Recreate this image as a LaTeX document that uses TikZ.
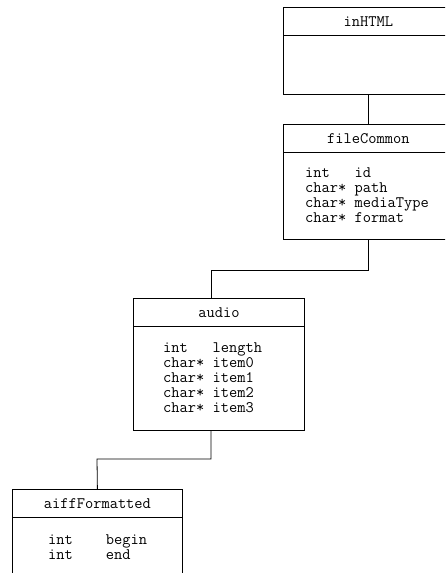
\documentclass[tikz,border=0pt]{standalone}

\begin{document}
\begin{tikzpicture}[x=1pt, y=-1pt, every node/.style={font=\fontsize{16}{15}\ttfamily},
	cls/.style={draw, line width=0.8pt, minimum width=170pt, inner sep=0pt, anchor=north west},
	fld/.style={anchor=north west, inner sep=0pt, align=left}]
	\useasboundingbox (0,0) rectangle (445,573);
	\clip (0,0) rectangle (445,573);
	% class boxes
	\node[cls, minimum height=87pt] (inHTML) at (283,7) {};
	\node[cls, minimum height=115pt] (fileCommon) at (283,124) {};
	\node[cls, minimum width=171pt, minimum height=132pt] (audio) at (133,298) {};
	\node[cls, minimum height=120pt] (aiffFormatted) at (12,489) {};
	% header lines and names
	\foreach \c in {inHTML,fileCommon,audio,aiffFormatted} {
		\draw[line width=0.8pt] ([yshift=-28pt]\c.north west) -- ([yshift=-28pt]\c.north east);
		\node (\c-t) at ([yshift=-15pt]\c.north) {\c};
	}
	% fields
	\node[fld] (fileCommon-f) at (305,167) {\begin{tabular}{@{}l@{\ }l@{}}int & id\\ char* & path\\ char* & mediaType\\ char* & format\end{tabular}};
	\node[fld] (audio-f) at (163,342) {\begin{tabular}{@{}l@{\ }l@{}}int & length\\ char* & item0\\ char* & item1\\ char* & item2\\ char* & item3\end{tabular}};
	\node[fld] (aiffFormatted-f) at (48,534) {\begin{tabular}{@{}l@{\ \ \ \ }l@{}}int & begin\\ int & end\end{tabular}};
	% connectors
	\coordinate (j1) at (211,270);
	\coordinate (j2) at (97,459);
	\draw[line width=0.8pt] (inHTML.south) -- (fileCommon.north);
	\draw[line width=0.8pt] (fileCommon.south) |- (j1) -- (j1 |- audio.north);
	\draw[line width=0.8pt] (j1 |- audio.south) |- (j2) -- (aiffFormatted.north);
\end{tikzpicture}
\end{document}
